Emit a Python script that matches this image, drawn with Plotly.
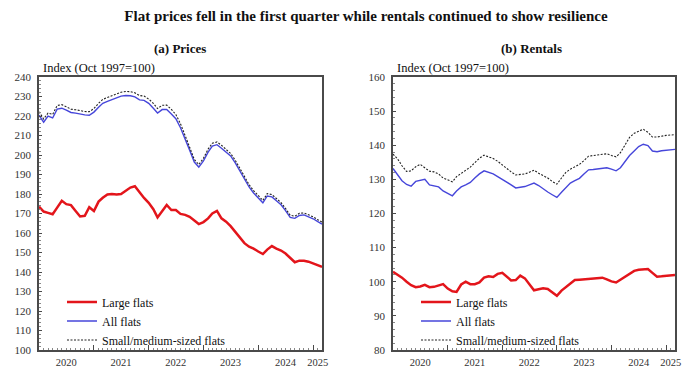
import plotly.graph_objects as go
import pandas as pd

# ---------------- data ----------------
months = pd.date_range("2020-01-01", "2025-03-01", freq="MS").strftime("%Y-%m-%d").tolist()

price_large = [173.5, 171, 170.3, 169.6, 173, 176.5, 174.8, 174.3, 171.3, 168.5,
               168.8, 173.2, 171.3, 176.1, 178.1, 179.8, 180, 179.8, 180, 181.8,
               183.3, 184, 180.7, 178, 175.5, 172.2, 168, 171.3, 174.4, 171.8,
               171.8, 169.8, 169.3, 168.3, 166.5, 164.6, 165.6, 167.5, 170, 171.3,
               167.5, 165.8, 163.5, 160.5, 157.5, 154.8, 153, 152, 150.5, 149.2,
               151.5, 153.3, 152, 151, 149.5, 147, 145, 145.8, 145.8, 145.3,
               144.4, 143.5, 142.6]
price_all = [220.4, 216.8, 220, 219, 223.5, 224, 223, 221.8, 221.5, 221,
             220.6, 220.4, 222, 224.5, 226.5, 227.5, 228.4, 229.2, 230.2, 230.5,
             230.4, 229.8, 228.3, 228, 226.5, 224, 221.5, 223.3, 223.3, 221,
             218.6, 214, 208.5, 202.5, 196.4, 193.8, 197, 201.5, 204.6, 205.3,
             203.5, 201.5, 199.5, 196, 192, 188, 183.6, 180.5, 178, 175.5,
             179, 178.5, 176.5, 174.5, 171.5, 168, 167.5, 169, 169.3, 168.3,
             167.3, 165.8, 164.6]
price_small = [222.2, 218.5, 221.5, 220.8, 225.4, 225.8, 224.8, 223.5, 223.2, 222.7,
               222.3, 222.2, 223.8, 226.5, 228.5, 229.5, 230.5, 231.2, 232.2, 232.6,
               232.5, 231.9, 230.5, 230.2, 228.7, 226.5, 223.8, 225.5, 225.6, 223.4,
               220.8, 216, 210.2, 204, 197.7, 195.1, 198.3, 203, 206, 206.7,
               205, 202.9, 200.8, 197.3, 193.2, 189.2, 184.8, 181.7, 179.2, 176.7,
               180.2, 179.7, 177.7, 175.6, 172.6, 169.1, 168.6, 170.1, 170.3, 169.3,
               168.3, 166.8, 165.6]

rent_large = [102.9, 102.1, 101.2, 100, 99, 98.4, 98.6, 99.1, 98.4, 98.5,
              99, 99.3, 98, 97.2, 97, 99.2, 100, 99.3, 99.3, 99.8,
              101.2, 101.6, 101.4, 102.3, 102.6, 101.5, 100.4, 100.5, 101.8, 101,
              99.3, 97.5, 97.8, 98.1, 97.9, 97, 95.9, 97.4, 98.3, 99.5,
              100.5, 100.6, 100.7, 100.8, 100.8, 101, 101.2, 100.7, 100.1, 99.8,
              100.6, 101.5, 102.3, 103.2, 103.5, 103.6, 103.7, 102.6, 101.5, 101.6,
              101.8, 101.9, 102]
rent_all = [133.2, 131.5, 129.6, 128.5, 128, 129.4, 129.8, 130, 128.4, 128.2,
            127.8, 126.6, 126, 125.2, 126.6, 127.8, 128.4, 129.1, 130.4, 131.6,
            132.5, 132, 131.6, 130.8, 130, 129.3, 128.4, 127.5, 127.7, 127.9,
            128.4, 128.9, 128.2, 127.2, 126.3, 125.5, 124.7, 126.2, 127.6, 128.9,
            129.6, 130.3, 131.6, 132.8, 132.9, 133, 133.2, 133.4, 133, 132.5,
            133.4, 135.2, 137, 138.3, 139.6, 140.3, 139.9, 138.3, 138.1, 138.4,
            138.6, 138.7, 138.8]
rent_small = [137.4, 136, 134, 132.3, 132.5, 133.7, 134.4, 133.5, 132.4, 132.2,
              131.6, 130.4, 129.8, 129.3, 130.8, 131.8, 132.7, 133.6, 134.9, 136.2,
              137.1, 136.7, 136.1, 135.3, 134.2, 133.2, 132.2, 131.3, 131.4, 131.6,
              132.1, 132.7, 131.8, 131.1, 130.4, 129.4, 128.6, 130.4, 132, 133,
              133.7, 134.4, 135.5, 136.8, 137, 137.2, 137.4, 137.5, 137, 136.6,
              137.8, 140.2, 142.3, 143.5, 144.2, 144.7, 143.8, 142.4, 142.4, 142.7,
              142.9, 143, 143.1]

series_names = ["Large flats", "All flats", "Small/medium-sized flats"]
year_labels = ["2020", "2021", "2022", "2023", "2024", "2025"]
year_label_pos = ["2020-07-01", "2021-07-01", "2022-07-01", "2023-07-01", "2024-07-01", "2025-02-01"]
year_bounds = ["2020-01-01", "2021-01-01", "2022-01-01", "2023-01-01", "2024-01-01", "2025-01-01"]

main_title = "Flat prices fell in the first quarter while rentals continued to show resilience"
panel_titles = ["(a) Prices", "(b) Rentals"]
unit_label = "Index (Oct 1997=100)"

# ---------------- styling ----------------
SERIF = "Liberation Serif, Times New Roman, serif"
RED = "#e3151b"
BLUE = "#4646da"
BLACK = "#222222"
AXCOL = "#4a4a4a"

fig = go.Figure()

styles = [dict(color=RED, width=2.5), dict(color=BLUE, width=1.4),
          dict(color=BLACK, width=1.1, dash="2px,1.5px")]

panels = [((price_large, price_all, price_small), "x", "y", "x3", "legend"),
          ((rent_large, rent_all, rent_small), "x2", "y2", "x4", "legend2")]

for data, xa, ya, xl, lg in panels:
    for name, vals, st in zip(series_names, data, styles):
        fig.add_trace(go.Scatter(x=months, y=vals, mode="lines", name=name,
                                 line=st, xaxis=xa, yaxis=ya, legend=lg))
    # invisible companion trace so the year-label axis is drawn
    fig.add_trace(go.Scatter(x=months, y=data[1], mode="lines", xaxis=xl, yaxis=ya,
                             line=dict(width=0), opacity=0, hoverinfo="skip",
                             showlegend=False))

x_range = [months[0], months[-1]]
left_dom = [39 / 696, 322 / 696]
right_dom = [393 / 696, 675 / 696]
y_dom = [1 - 350 / 384, 1 - 77 / 384]

def xax(domain, anchor):
    return dict(domain=domain, anchor=anchor, type="date", range=x_range,
                tickmode="array", tickvals=year_bounds, ticktext=[""] * len(year_bounds),
                ticks="inside", ticklen=5, tickwidth=1, tickcolor=AXCOL,
                minor=dict(dtick="M1", tick0="2020-01-01", ticks="inside", ticklen=2,
                           tickcolor="#888", tickwidth=1, showgrid=False),
                showline=True, linecolor=AXCOL, linewidth=1.5, mirror=True,
                showgrid=False, zeroline=False, automargin=False)

def xlab(domain, anchor, over):
    return dict(domain=domain, anchor=anchor, overlaying=over, type="date", range=x_range,
                tickmode="array", tickvals=year_label_pos, ticktext=year_labels,
                ticks="", showline=False, showgrid=False, zeroline=False,
                tickfont=dict(family=SERIF, size=10.5, color="#333"),
                ticklabelstandoff=4, side="bottom", automargin=False)

def yax(domain, anchor, rng, dt, mdt):
    return dict(domain=domain, anchor=anchor, range=rng, dtick=dt, tick0=rng[0],
                ticks="inside", ticklen=3, tickcolor=AXCOL,
                minor=dict(dtick=mdt, ticks="inside", ticklen=2, tickcolor="#888", showgrid=False),
                showline=True, linecolor=AXCOL, linewidth=1.5, mirror=True,
                showgrid=False, zeroline=False, automargin=False,
                tickfont=dict(family=SERIF, size=11, color="#333"),
                ticklabelstandoff=4)

fig.update_layout(
    width=696, height=384,
    margin=dict(l=0, r=0, t=0, b=0, autoexpand=False),
    paper_bgcolor="white", plot_bgcolor="white",
    font=dict(family=SERIF, color="#111"),
    xaxis=xax(left_dom, "y"),
    xaxis2=xax(right_dom, "y2"),
    xaxis3=xlab(left_dom, "y", "x"),
    xaxis4=xlab(right_dom, "y2", "x2"),
    yaxis=yax(y_dom, "x", [100, 240], 10, 2),
    yaxis2=yax(y_dom, "x2", [80, 160], 10, 2),
    title=dict(text="<b>" + main_title + "</b>", x=366 / 696, xanchor="center",
               y=1 - 16 / 384, yanchor="middle",
               font=dict(family=SERIF, size=15, color="#111")),
    legend=dict(x=62 / 696, y=1 - 321 / 384, xanchor="left", yanchor="middle",
                bgcolor="rgba(0,0,0,0)", font=dict(family=SERIF, size=12, color="#111"),
                itemwidth=30),
    legend2=dict(x=416 / 696, y=1 - 321 / 384, xanchor="left", yanchor="middle",
                 bgcolor="rgba(0,0,0,0)", font=dict(family=SERIF, size=12, color="#111"),
                 itemwidth=30),
    showlegend=True,
)

for txt, xc in zip(panel_titles, [180 / 696, 531 / 696]):
    fig.add_annotation(text="<b>" + txt + "</b>", x=xc, y=1 - 48 / 384, xref="paper", yref="paper",
                       xanchor="center", yanchor="middle", showarrow=False,
                       font=dict(family=SERIF, size=13, color="#111"))
for xl in [41 / 696, 395 / 696]:
    fig.add_annotation(text=unit_label, x=xl, y=1 - 68 / 384, xref="paper", yref="paper",
                       xanchor="left", yanchor="middle", showarrow=False,
                       font=dict(family=SERIF, size=12.5, color="#111"))

fig.write_html("out.html", config={"displayModeBar": False},
               post_script="document.body.style.margin='0';")
